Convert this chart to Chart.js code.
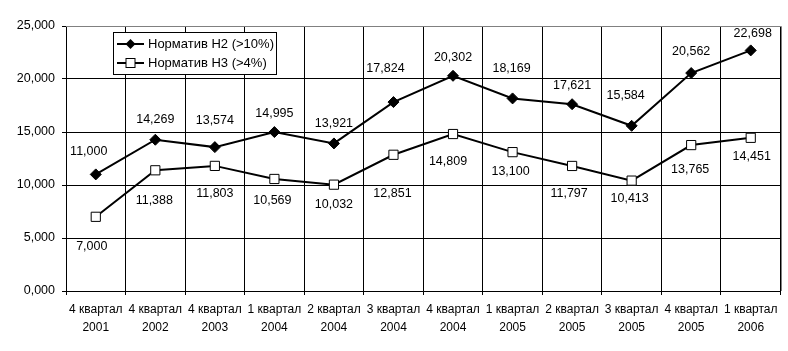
<!DOCTYPE html>
<html><head><meta charset="utf-8">
<script src="https://cdn.jsdelivr.net/npm/chart.js@4/dist/chart.umd.min.js"></script>
<style>html,body{margin:0;padding:0;background:#fff}#wrap{width:788px;height:351px}</style>
</head><body><div id="wrap"><canvas id="c" width="788" height="351"></canvas></div>
<script>
const categories = [
  ["4 квартал","2001"],["4 квартал","2002"],["4 квартал","2003"],["1 квартал","2004"],
  ["2 квартал","2004"],["3 квартал","2004"],["4 квартал","2004"],["1 квартал","2005"],
  ["2 квартал","2005"],["3 квартал","2005"],["4 квартал","2005"],["1 квартал","2006"]
];
const seriesH2 = [11.000,14.269,13.574,14.995,13.921,17.824,20.302,18.169,17.621,15.584,20.562,22.698];
const seriesH3 = [7.000,11.388,11.803,10.569,10.032,12.851,14.809,13.100,11.797,10.413,13.765,14.451];
const seriesNames = ["Норматив Н2 (>10%)","Норматив Н3 (>4%)"];
const yTicks = [0,5,10,15,20,25];

// label placement nudges (pixels, relative to each point) — presentation only
const labelNudge = [
  { dx: [-7,0,0,0,0,-8,0,-1,0,-6,0,2], dy: [-23,-20,-27,-19,-20,-34,-18,-30,-19,-30,-21,-17] },
  { dx: [-4,-1,0,-2,0,-1,-5,-2,-3,-2,-1,1], dy: [30,30,28,22,20,39,28,19,28,18,24,19] }
];

const FONT = "'Liberation Sans', Arial, sans-serif";
const fmt = v => v.toFixed(3).replace('.', ',');

const labelPlugin = {
  id: 'dataLabels',
  afterDatasetsDraw(chart) {
    const ctx = chart.ctx;
    ctx.save();
    ctx.font = '12.5px ' + FONT;
    ctx.fillStyle = '#000';
    ctx.textAlign = 'center';
    ctx.textBaseline = 'middle';
    chart.data.datasets.forEach((ds, di) => {
      const meta = chart.getDatasetMeta(di);
      const n = labelNudge[di];
      meta.data.forEach((pt, i) => {
        ctx.fillText(fmt(ds.data[i]), pt.x + n.dx[i], pt.y + n.dy[i]);
      });
    });
    ctx.restore();
  }
};

const borderPlugin = {
  id: 'border',
  beforeDatasetsDraw(chart) {
    const a = chart.chartArea, ctx = chart.ctx;
    ctx.save();
    ctx.strokeStyle = '#808080';
    ctx.lineWidth = 1;
    ctx.beginPath();
    ctx.moveTo(Math.round(a.left) , Math.round(a.top) + 0.5);
    ctx.lineTo(Math.round(a.right) + 0.5, Math.round(a.top) + 0.5);
    ctx.lineTo(Math.round(a.right) + 0.5, Math.round(a.bottom));
    ctx.stroke();
    ctx.restore();
  }
};

const legendPlugin = {
  id: 'customLegend',
  afterDraw(chart) {
    const ctx = chart.ctx;
    ctx.save();
    const x0 = 113.5, y0 = 32.5, w = 163, h = 42;
    ctx.fillStyle = '#fff';
    ctx.fillRect(x0, y0, w, h);
    ctx.strokeStyle = '#000';
    ctx.lineWidth = 1;
    ctx.strokeRect(x0, y0, w, h);
    const rows = [44, 63];
    ctx.font = '13px ' + FONT;
    ctx.textBaseline = 'middle';
    rows.forEach((ry, i) => {
      ctx.strokeStyle = '#000';
      ctx.lineWidth = 2;
      ctx.beginPath();
      ctx.moveTo(117, ry); ctx.lineTo(144, ry); ctx.stroke();
      ctx.lineWidth = 1;
      if (i === 0) {
        ctx.fillStyle = '#000';
        ctx.beginPath();
        ctx.moveTo(130.5, ry - 5); ctx.lineTo(135.5, ry); ctx.lineTo(130.5, ry + 5); ctx.lineTo(125.5, ry);
        ctx.closePath(); ctx.fill();
      } else {
        ctx.fillStyle = '#fff';
        ctx.fillRect(126, ry - 4.5, 9, 9);
        ctx.strokeRect(126, ry - 4.5, 9, 9);
      }
      ctx.fillStyle = '#000';
      ctx.textAlign = 'left';
      ctx.fillText(seriesNames[i], 148, ry);
    });
    ctx.restore();
  }
};

new Chart(document.getElementById('c'), {
  type: 'line',
  data: {
    labels: categories,
    datasets: [
      { label: seriesNames[0], data: seriesH2, borderColor: '#000', borderWidth: 2,
        pointStyle: 'rectRot', pointRadius: 5.5, pointBackgroundColor: '#000', pointBorderColor: '#000',
        pointBorderWidth: 1, tension: 0 },
      { label: seriesNames[1], data: seriesH3, borderColor: '#000', borderWidth: 2,
        pointStyle: 'rect', pointRadius: 6.5, pointBackgroundColor: '#fff', pointBorderColor: '#000',
        pointBorderWidth: 1, tension: 0 }
    ]
  },
  options: {
    responsive: false,
    animation: false,
    layout: { padding: { left: 0, right: 5, top: 26, bottom: 0 } },
    plugins: { legend: { display: false }, tooltip: { enabled: false } },
    scales: {
      x: {
        offset: true,
        grid: { offset: true, color: '#000', tickLength: 4, tickColor: '#000', drawTicks: true },
        border: { color: '#000', width: 1 },
        ticks: { color: '#000', font: { family: FONT, size: 12, lineHeight: 1.5 }, padding: 6, maxRotation: 0, autoSkip: false },
        afterFit(s) { s.height = 60; }
      },
      y: {
        min: 0, max: 25,
        afterBuildTicks(s) { s.ticks = yTicks.map(v => ({ value: v })); },
        grid: { color: c => (c.tick && c.tick.value === 25) ? '#808080' : '#000', tickLength: 4, tickColor: '#000' },
        border: { color: '#000', width: 1 },
        ticks: { color: '#000', font: { family: FONT, size: 12.5 }, padding: 7, callback: v => fmt(v) },
        afterFit(s) { s.width = 66; }
      }
    }
  },
  plugins: [borderPlugin, labelPlugin, legendPlugin]
});
</script>
</body></html>
